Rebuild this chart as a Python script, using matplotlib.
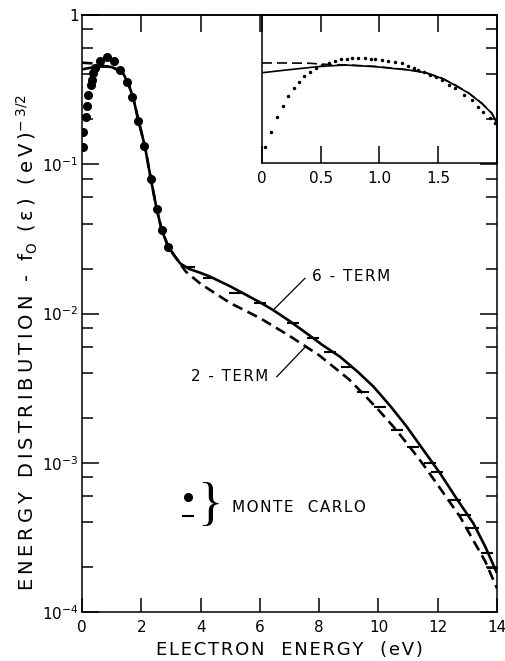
import numpy as np
import matplotlib.pyplot as plt
from matplotlib.ticker import FixedLocator, NullFormatter

plt.rcParams['font.family'] = ['DejaVu Sans']

# main panel, electron energy (eV) vs f0 (eV)^-3/2
six_term_x = [0.0, 0.2, 0.5, 0.8, 1.0, 1.2, 1.39, 1.56, 1.73, 1.90, 2.125, 2.32, 2.52, 2.69,
              2.91, 3.14, 3.31, 3.6, 4.0, 4.32, 5.0, 5.44, 6.0, 6.45, 7.0, 7.58, 8.1, 8.70,
              9.3, 9.83, 10.4, 10.95, 11.5, 12.08, 12.6, 13.2, 13.6, 14.0]
six_term_y = [0.432, 0.44, 0.45, 0.452, 0.448, 0.43, 0.406, 0.348, 0.277, 0.198, 0.131, 0.080,
              0.050, 0.0362, 0.028, 0.02404, 0.02168, 0.01995, 0.01871, 0.01766, 0.01521,
              0.01365, 0.01189, 0.01054, 0.00891, 0.00736, 0.00617, 0.00514, 0.00407, 0.00324,
              0.00240, 0.00175, 0.00123, 8.5e-4, 5.9e-4, 3.93e-4, 2.75e-4, 1.82e-4]

two_term_x = [0.0, 0.3, 0.6, 0.8, 1.0, 1.2, 1.39, 1.56, 1.73, 1.90, 2.125, 2.32, 2.52, 2.69,
              2.91, 3.0, 3.5, 4.0, 5.0, 6.0, 7.0, 8.0, 9.0, 9.5, 10.0, 10.5, 11.0, 11.5, 12.0,
              12.75, 13.2, 13.6, 14.0]
two_term_y = [0.479, 0.475, 0.465, 0.452, 0.448, 0.43, 0.406, 0.348, 0.277, 0.198, 0.131, 0.080,
              0.050, 0.0362, 0.028, 0.0263, 0.0191, 0.0158, 0.01175, 0.00933, 0.00708, 0.00525,
              0.00363, 0.00288, 0.00226, 0.00175, 0.00132, 9.8e-4, 7.1e-4, 4.36e-4, 3.02e-4,
              2.19e-4, 1.44e-4]

mc_dot_x = [0.04, 0.04, 0.13, 0.16, 0.21, 0.29, 0.33, 0.38, 0.45, 0.62, 0.83, 1.09, 1.28,
            1.51, 1.69, 1.89, 2.10, 2.32, 2.52, 2.71, 2.91]
mc_dot_y = [0.131, 0.165, 0.207, 0.245, 0.291, 0.340, 0.368, 0.406, 0.44, 0.49, 0.52, 0.49,
            0.43, 0.357, 0.283, 0.196, 0.133, 0.080, 0.050, 0.036, 0.028]

mc_bar_x = [3.6, 4.3, 5.16, 6.0, 7.13, 7.80, 8.37, 8.93, 9.49, 10.05, 10.62, 11.18, 11.74,
            11.97, 12.58, 12.92, 13.20, 13.65, 13.88]
mc_bar_y = [0.0205, 0.0172, 0.01365, 0.0117, 0.00859, 0.00682, 0.00555, 0.00441, 0.00299,
            0.00238, 0.00166, 0.00128, 9.9e-4, 8.7e-4, 5.6e-4, 4.47e-4, 3.64e-4, 2.47e-4,
            1.96e-4]

# inset, 0-2 eV, linear (arbitrary units)
ins_solid_x = [0.0, 0.25, 0.5, 0.71, 0.96, 1.25, 1.39, 1.53, 1.64, 1.76, 1.87, 1.955, 2.0]
ins_solid_y = [0.610, 0.632, 0.653, 0.662, 0.651, 0.628, 0.610, 0.572, 0.527, 0.471, 0.403,
               0.336, 0.268]
ins_dash_x = [0.0, 0.2, 0.4, 0.55, 0.71, 0.96, 1.25, 1.39, 1.53, 1.64, 1.76, 1.87, 1.955, 2.0]
ins_dash_y = [0.676, 0.676, 0.674, 0.666, 0.663, 0.653, 0.630, 0.612, 0.574, 0.529, 0.473,
              0.405, 0.338, 0.270]
ins_dot_x = [0.026, 0.077, 0.128, 0.176, 0.224, 0.27, 0.315, 0.36, 0.41, 0.46, 0.508, 0.57,
             0.62, 0.672, 0.72, 0.77, 0.82, 0.88, 0.93, 0.96, 1.02, 1.07, 1.13, 1.19, 1.24,
             1.29, 1.33, 1.38, 1.43, 1.48, 1.53, 1.59, 1.64, 1.72, 1.785, 1.84, 1.885, 1.94, 1.98]
ins_dot_y = [0.106, 0.207, 0.309, 0.385, 0.453, 0.505, 0.549, 0.588, 0.615, 0.640, 0.662,
             0.678, 0.691, 0.701, 0.705, 0.707, 0.707, 0.707, 0.704, 0.701, 0.696, 0.691, 0.682,
             0.674, 0.657, 0.640, 0.628, 0.612, 0.595, 0.578, 0.561, 0.527, 0.505, 0.459,
             0.426, 0.380, 0.347, 0.302, 0.268]


def spaced(s, gap='\u200a'):
    # wide lettering like the original
    return gap.join(s)


fig = plt.figure(figsize=(5.05, 6.61), dpi=100)
ax = fig.add_axes([0.1624, 0.0741, 0.8218, 0.9032])

ax.semilogy(six_term_x, six_term_y, color='black', lw=1.9, solid_capstyle='butt')
ax.semilogy(two_term_x, two_term_y, color='black', lw=1.9, dashes=(4, 2.2))
ax.semilogy(mc_dot_x, mc_dot_y, 'o', color='black', ms=5.5)
ax.semilogy(mc_bar_x, mc_bar_y, '_', color='black', ms=8, mew=1.5)

ax.set_xlim(0, 14)
ax.set_ylim(1e-4, 1)
ax.set_xticks([0, 2, 4, 6, 8, 10, 12, 14])
ax.set_xticklabels(['0', '2', '4', '6', '8', '10', '12', '14'])
ax.yaxis.set_major_locator(FixedLocator([1e-4, 1e-3, 1e-2, 1e-1, 1]))
ax.set_yticklabels([r'$\mathregular{10^{-4}}$', r'$\mathregular{10^{-3}}$',
                    r'$\mathregular{10^{-2}}$', r'$\mathregular{10^{-1}}$', '1'])
minors = [m * 10.0**d for d in range(-4, 0) for m in (2, 4, 6, 8)]
ax.yaxis.set_minor_locator(FixedLocator(minors))
ax.yaxis.set_minor_formatter(NullFormatter())
ax.tick_params(axis='both', which='major', direction='in', length=12, width=1.1,
               right=True, labelsize=11, pad=6)
ax.tick_params(axis='y', which='major', pad=2.5)
ax.tick_params(axis='y', which='minor', direction='in', length=8, width=1.1, right=True)
ax.tick_params(axis='x', which='major', length=10, top=False)
for s in ax.spines.values():
    s.set_linewidth(1.1)

top = ax.secondary_xaxis('top')
top.set_xticks([2, 4, 6])
top.tick_params(direction='in', length=12, width=1.1, labeltop=False)
top.spines['top'].set_linewidth(1.1)

ax.set_xlabel(spaced('ELECTRON  ENERGY  (eV)'), fontsize=13, labelpad=4)
ax.set_ylabel(spaced('ENERGY DISTRIBUTION - f', '\u2009') + '$_\\mathregular{O}$'
              + spaced(' (ε) (eV)', '\u2009') + '$^{\\mathregular{-\\ 3/2}}$',
              fontsize=14)
ax.yaxis.set_label_coords(-0.102, 0.452)

# labels and leader lines
ax.text(7.76, 0.0178, spaced('6 - TERM'), fontsize=11, ha='left', va='center')
ax.plot([6.45, 7.52], [0.01055, 0.0172], color='black', lw=0.9)
ax.text(6.28, 0.00376, spaced('2 - TERM'), fontsize=10.8, ha='right', va='center')
ax.plot([6.57, 7.52], [0.00377, 0.00594], color='black', lw=0.9)

# legend block
ax.plot([3.58], [5.9e-4], 'o', color='black', ms=5.5)
ax.plot([3.58], [4.4e-4], '_', color='black', ms=8, mew=1.5)
ax.text(4.3, 5.1e-4, '}', fontsize=38, ha='center', va='center',
        family='Liberation Serif', fontweight='normal')
ax.text(5.06, 5.0e-4, spaced('MONTE  CARLO'), fontsize=11, ha='left', va='center')

# inset
ins = fig.add_axes([0.5188, 0.7534, 0.4653, 0.2239])
ins.patch.set_alpha(0)
ins.plot(ins_solid_x, ins_solid_y, color='black', lw=1.2)
ins.plot(ins_dash_x, ins_dash_y, color='black', lw=1.2, dashes=(6, 3))
ins.plot(ins_dot_x, ins_dot_y, '.', color='black', ms=3)
ins.set_xlim(0, 2)
ins.set_ylim(0, 1)
ins.set_xticks([0, 0.5, 1.0, 1.5])
ins.set_xticklabels(['0', '0.5', '1.0', '1.5'])
ins.set_yticks([])
ins.tick_params(axis='x', direction='in', length=12, width=1.1, top=True, labelsize=11, pad=6)
for s in ins.spines.values():
    s.set_linewidth(1.1)

fig.savefig('out.png', dpi=100)
